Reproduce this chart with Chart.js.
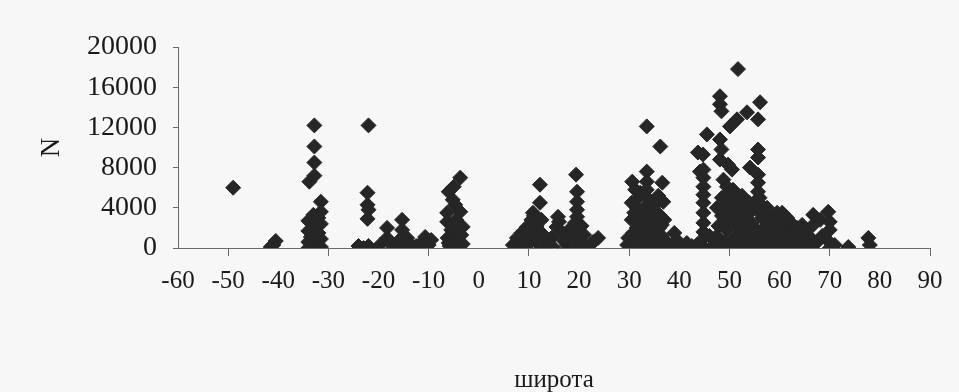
<!DOCTYPE html>
<html>
<head>
<meta charset="utf-8">
<script src="https://cdn.jsdelivr.net/npm/chart.js@4.4.1/dist/chart.umd.min.js"></script>
<style>
  html, body { margin: 0; padding: 0; background: #f7f7f7; }
  #wrap { width: 959px; height: 392px; }
</style>
</head>
<body>
<div id="wrap"><canvas id="latChart" width="959" height="392"></canvas></div>
<script>
// latitude (deg) and abundance N of each sample
const latitude = [
    -49,
    -41, -40.5, -41.5,
    // column near -33
    -32.8, -32.8, -32.8, -32.8, -33.8, -31.5, -31.5, -33, -32, -34, -31.5, -33, -34, -32,
    -33.5, -31.5, -34, -32.5, -33, -34, -32, -31.5, -33, -32,
    // column near -22 and the low group
    -22, -22.2, -22.2, -22, -22.2, -24, -22, -23,
    -19.7, -18.3, -18.3, -17.5, -17, -15.3, -15.3, -15.8, -14.3, -15, -13.5,
    -11.5, -10.7, -10, -11, -12.5, -9.5,
    // column near -5
    -3.7, -5, -6, -4.7, -6.3, -3.7, -6.3, -3.2, -5.5, -6.2, -4.2, -5, -6, -4.5, -5.2,
    -3.5, -5.8, -4.5, -3.2,
    // 7..24
    12.2, 12.2, 10.8, 10.5, 12.5, 9.6, 11.5, 8.5, 12.5, 7.6, 10.5, 6.8, 9.8, 8, 11.5, 12.8, 9,
    10, 11, 13,
    15.8, 15.5, 14.5, 14, 16.6, 17.6, 15, 17, 16, 18,
    19.4, 19.6, 19.6, 19.6, 19.6, 19.2, 19.8, 19, 20.5, 21, 22.2, 23.8, 22.8, 19.5, 20.2, 21, 20.5,
    // 29..43
    29.6, 29.8, 30.6, 31.2, 30.5, 31, 30.5, 31.5, 30.8, 31.5, 31,
    33.5, 36.2, 33.5, 33.5, 36.6, 33.5, 32.2, 34, 35, 33, 34.5, 36, 32.5, 35, 33.5, 36.5,
    34, 32.5, 35.5, 33, 36.5, 34.5, 32.5, 35.5, 33.5, 36.5, 34.5, 37.5, 36.8, 35.8, 34,
    31.5, 32, 35, 36, 34, 33, 32, 37, 31.8, 35.2,
    38.5, 39.5, 40.5, 41.5, 42.5, 39,
    // column near 45
    45.5, 43.7, 44.7, 44.1, 44.8, 44.8, 44.8, 44.8, 44.8, 44.8, 44.8, 44.8, 44.5, 45, 43.5, 46,
    // upper points 48..56
    51.7, 48.1, 48.1, 48.4, 51.5, 50.1, 53.5, 56.1, 55.7, 48.1, 48.4, 48.1, 49.7, 50.5,
    48.8, 49.5, 50.7, 48.5, 50, 49, 51.5,
    55.7, 55.7, 54.1, 55.7, 55.7, 55.7, 55.5, 56.5,
    // dense lower cluster 47..68
    47, 47.5, 47.8, 48.5, 49, 49.5, 50, 50.5, 51, 51.5, 52, 52.5, 53, 53.5, 54, 54.5, 55,
    55.5, 56, 56.5, 57, 57.5, 58, 58.5, 59, 59.5, 60, 60.5, 61, 61.5, 61.5, 62, 62.5, 63,
    63.5, 64, 64.5, 65, 65.5, 66, 66.7, 66.7, 66.2, 67.5, 48, 50, 52, 54, 56, 58, 60, 62,
    64, 53, 51.5, 57.5, 59.5, 61.5, 53.8, 57.5, 58.8,
    49, 50.5, 52, 53, 54.5, 55.5, 56.5, 57, 58, 59, 60, 61, 62.5, 63.5, 65, 60, 51, 54,
    52.5, 56, 49.5, 47.5, 53.5,
    // 68..80
    69.7, 68.1, 70, 70, 69.5, 70, 71, 68.5, 73.7, 77.7, 78
];
const abundance = [
    6000,
    300, 700, 100,
    12200, 10100, 8500, 7200, 6600, 4600, 3600, 3300, 3000, 2700, 2400, 2100, 1700, 1500,
    1100, 900, 600, 500, 200, 0, 0, 100, 1400, 2500,
    12200, 5500, 4300, 3800, 2900, 200, 200, 0,
    300, 2000, 1000, 500, 0, 2800, 1800, 800, 1000, 200, 300,
    500, 1100, 300, 0, 200, 800,
    7000, 6100, 5600, 4300, 3500, 3600, 2600, 2100, 1800, 1000, 800, 0, 500, 2800, 4800,
    1300, 200, 1500, 400,
    6300, 4500, 3500, 2800, 2800, 2100, 2200, 1500, 1500, 1000, 1000, 300, 300, 0, 600, 800, 500,
    1800, 3200, 300,
    3100, 2100, 1000, 300, 1500, 300, 0, 700, 2600, 1800,
    7300, 5600, 4600, 3800, 3100, 2500, 1800, 1100, 600, 300, 300, 1000, 600, 0, 1400, 1300, 2200,
    300, 1000, 6600, 5800, 4500, 3500, 2800, 2000, 1500, 500, 0,
    12100, 10100, 7600, 6600, 6500, 5800, 5500, 4800, 4200, 4000, 3500, 3300, 3000, 2800, 2500, 2300,
    2000, 1800, 1600, 1300, 1200, 900, 700, 500, 300, 100, 0, 600, 4600, 5200, 3200,
    4000, 2400, 3800, 2000, 1200, 600, 100, 2800, 5000, 4700,
    300, 800, 0, 500, 200, 1500,
    11300, 9500, 9300, 7600, 7800, 7000, 6100, 5300, 4500, 3500, 2500, 1600, 800, 0, 300, 1200,
    17800, 15100, 14300, 13600, 12800, 12100, 13500, 14500, 12800, 10800, 9800, 8800, 8300, 7800,
    6800, 6100, 5800, 5000, 4500, 4000, 3800,
    9800, 9000, 8000, 7300, 6500, 5600, 4800, 4200,
    300, 1200, 2200, 3200, 600, 1800, 2800, 100, 1000, 2300, 3300, 400, 1500, 2600, 3500, 800, 2000,
    0, 1200, 3000, 500, 2200, 3400, 1600, 200, 2700, 900, 3500, 1900, 3000, 500, 1200, 2400, 100,
    800, 1600, 2300, 400, 1100, 0, 3300, 2300, 1000, 600, 0, 0, 0, 0, 0, 0, 0, 0,
    0, 4200, 4800, 4000, 3500, 2800, 500, 1000, 2800,
    3000, 3600, 2000, 1000, 2500, 3800, 1800, 2800, 600, 1400, 2200, 1000, 300, 2000, 1800, 3200,
    4300, 4500, 5200, 5000, 5300, 4000, 4600,
    3600, 2800, 2600, 1800, 800, 0, 300, 1200, 100, 1000, 300
];

const points = latitude.map((lat, i) => ({ x: lat, y: abundance[i] }));

const serif = "'Liberation Serif', 'DejaVu Serif', serif";
const ink = "#262626";
const axisGray = "#6a6a6a";

const ctx = document.getElementById("latChart").getContext("2d");
let myChart = new Chart(ctx, {
    type: "scatter",
    data: {
        datasets: [{
            data: points,
            pointStyle: "rectRot",
            pointRadius: 7.5,
            pointHoverRadius: 7.5,
            backgroundColor: ink,
            borderColor: ink,
            borderWidth: 1
        }]
    },
    options: {
        responsive: false,
        animation: false,
        events: [],
        layout: { padding: { top: 47, right: 29, left: 0, bottom: 0 } },
        plugins: { legend: { display: false }, tooltip: { enabled: false } },
        scales: {
            x: {
                type: "linear",
                min: -60,
                max: 90,
                afterFit: (scale) => { scale.height = 144; },
                border: { color: axisGray, width: 1 },
                grid: {
                    drawOnChartArea: false,
                    tickLength: 8,
                    // tick marks only at -50, -30, ... 90
                    color: (c) => (c.tick && c.tick.value % 20 !== 0) ? axisGray : "transparent"
                },
                ticks: {
                    stepSize: 10,
                    color: "#1a1a1a",
                    padding: 10,
                    maxRotation: 0,
                    font: { family: serif, size: 25 },
                    callback: (v) => String(v)
                },
                title: {
                    display: true,
                    text: "широта",
                    color: "#1a1a1a",
                    padding: { top: 0, bottom: 0 },
                    font: { family: serif, size: 25, lineHeight: 0.9 }
                }
            },
            y: {
                min: 0,
                max: 20000,
                afterFit: (scale) => { scale.width = 178; },
                border: { color: axisGray, width: 1 },
                grid: {
                    drawOnChartArea: false,
                    tickLength: 5,
                    color: axisGray
                },
                ticks: {
                    stepSize: 4000,
                    color: "#1a1a1a",
                    padding: 16,
                    font: { family: serif, size: 28 },
                    callback: (v) => String(v)
                },
                title: {
                    display: true,
                    text: "N",
                    color: "#1a1a1a",
                    padding: { top: 36, bottom: 0 },
                    font: { family: serif, size: 27 }
                }
            }
        }
    }
});
</script>
</body>
</html>
